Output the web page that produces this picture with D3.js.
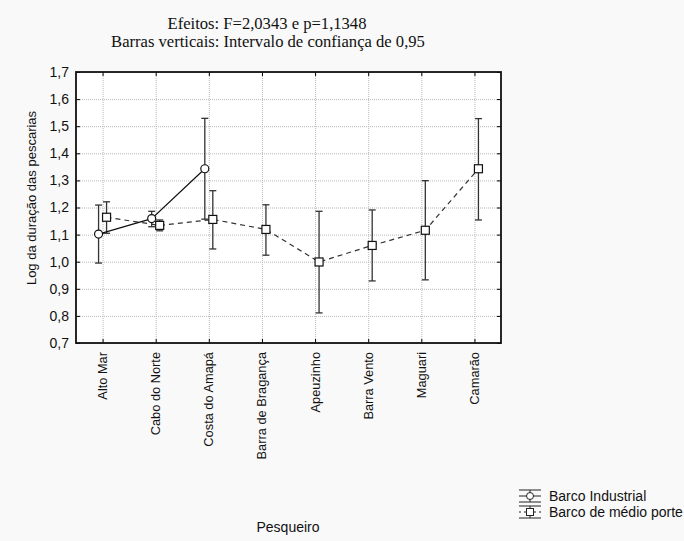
<!DOCTYPE html>
<html>
<head>
<meta charset="utf-8">
<script src="https://cdn.jsdelivr.net/npm/d3@7"></script>
<style>
  body { margin: 0; background: #f9f9f9; }
  svg { display: block; }
  .sans { font-family: "Liberation Sans", Arial, sans-serif; }
</style>
</head>
<body>
<svg id="chart" width="684" height="541"></svg>
<script>
// chart data
const categories = ['Alto Mar', 'Cabo do Norte', 'Costa do Amapá', 'Barra de Bragança',
  'Apeuzinho', 'Barra Vento', 'Maguari', 'Camarão']
const yTicks = [0.7, 0.8, 0.9, 1.0, 1.1, 1.2, 1.3, 1.4, 1.5, 1.6, 1.7]

// Barco Industrial (only first three pesqueiros)
const industrialMean = [1.102, 1.159, 1.343]
const industrialLow = [0.995, 1.129, 1.157]
const industrialHigh = [1.209, 1.186, 1.529]

// Barco de médio porte
const medioMean = [1.164, 1.134, 1.156, 1.119, 0.999, 1.060, 1.116, 1.343]
const medioLow = [1.105, 1.114, 1.047, 1.024, 0.811, 0.929, 0.933, 1.154]
const medioHigh = [1.221, 1.154, 1.262, 1.210, 1.186, 1.191, 1.299, 1.528]

const plotL = 76, plotR = 501, plotT = 72, plotB = 343
const svg = d3.select('#chart')

const x = d3.scalePoint().domain(categories).range([plotL, plotR]).padding(0.5)
const y = d3.scaleLinear().domain([0.7, 1.7]).range([plotB, plotT])
const fmt = d => d.toFixed(1).replace('.', ',')

// plot background
svg.append('rect')
  .attr('x', plotL).attr('y', plotT)
  .attr('width', plotR - plotL).attr('height', plotB - plotT)
  .attr('fill', '#fff')

// grid lines
svg.append('g')
  .attr('transform', `translate(0,${plotB})`)
  .call(d3.axisBottom(x).tickSize(-(plotB - plotT)).tickFormat(''))
  .call(g => g.select('.domain').remove())
  .call(g => g.selectAll('line').attr('stroke', '#b8b8b8').attr('stroke-dasharray', '1,1'))
svg.append('g')
  .attr('transform', `translate(${plotL},0)`)
  .call(d3.axisLeft(y).tickValues(yTicks).tickSize(-(plotR - plotL)).tickFormat(''))
  .call(g => g.select('.domain').remove())
  .call(g => g.selectAll('line').attr('stroke', '#b8b8b8').attr('stroke-dasharray', '1,1'))

// axes with inward ticks
svg.append('g')
  .attr('class', 'sans')
  .attr('transform', `translate(${plotL},0)`)
  .call(d3.axisLeft(y).tickValues(yTicks).tickSize(-4).tickPadding(7).tickFormat(fmt))
  .call(g => g.select('.domain').remove())
  .call(g => g.selectAll('text').attr('font-size', 14).attr('fill', '#111'))
svg.append('g')
  .attr('transform', `translate(${plotR},0)`)
  .call(d3.axisRight(y).tickValues(yTicks).tickSize(-4).tickFormat(''))
  .call(g => g.select('.domain').remove())
svg.append('g')
  .attr('transform', `translate(0,${plotT})`)
  .call(d3.axisTop(x).tickSize(-4).tickFormat(''))
  .call(g => g.select('.domain').remove())
svg.append('g')
  .attr('transform', `translate(0,${plotB})`)
  .call(d3.axisBottom(x).tickSize(-4).tickFormat(''))
  .call(g => g.select('.domain').remove())

// x tick labels, rotated
svg.append('g').attr('class', 'sans')
  .selectAll('text')
  .data(categories)
  .join('text')
  .attr('transform', d => `translate(${x(d)},352) rotate(-90)`)
  .attr('dy', '0.35em')
  .attr('text-anchor', 'end')
  .attr('font-size', 12.8)
  .attr('fill', '#111')
  .text(d => d)

// frame
svg.append('rect')
  .attr('x', plotL).attr('y', plotT)
  .attr('width', plotR - plotL).attr('height', plotB - plotT)
  .attr('fill', 'none').attr('stroke', '#111').attr('stroke-width', 1.8)

function drawSeries (means, lows, highs, offset, dashed, marker) {
  const g = svg.append('g')
  const cats = categories.slice(0, means.length)
  const pts = cats.map((c, i) => ({ cx: x(c) + offset, m: means[i], lo: lows[i], hi: highs[i] }))

  g.append('path')
    .attr('d', d3.line().x(d => d.cx).y(d => y(d.m))(pts))
    .attr('fill', 'none')
    .attr('stroke', dashed ? '#333' : '#111')
    .attr('stroke-width', 1.2)
    .attr('stroke-dasharray', dashed ? '5,4' : null)

  const bars = g.selectAll('g.bar').data(pts).join('g').attr('class', 'bar')
    .attr('stroke', '#333').attr('stroke-width', 1.3)
  bars.append('line')
    .attr('x1', d => d.cx).attr('x2', d => d.cx)
    .attr('y1', d => y(d.lo)).attr('y2', d => y(d.hi))
  bars.append('line')
    .attr('x1', d => d.cx - 3.5).attr('x2', d => d.cx + 3.5)
    .attr('y1', d => y(d.hi)).attr('y2', d => y(d.hi))
  bars.append('line')
    .attr('x1', d => d.cx - 3.5).attr('x2', d => d.cx + 3.5)
    .attr('y1', d => y(d.lo)).attr('y2', d => y(d.lo))

  if (marker === 'circle') {
    g.selectAll('circle').data(pts).join('circle')
      .attr('cx', d => d.cx).attr('cy', d => y(d.m)).attr('r', 4)
      .attr('fill', '#fff').attr('stroke', '#111').attr('stroke-width', 1.2)
  } else {
    g.selectAll('rect').data(pts).join('rect')
      .attr('x', d => d.cx - 4).attr('y', d => y(d.m) - 4)
      .attr('width', 8).attr('height', 8)
      .attr('fill', '#fff').attr('stroke', '#111').attr('stroke-width', 1.2)
  }
}

drawSeries(medioMean, medioLow, medioHigh, 4, true, 'square')
drawSeries(industrialMean, industrialLow, industrialHigh, -4, false, 'circle')

// titles
const title = svg.append('g')
  .attr('font-family', '"Liberation Serif", "Times New Roman", serif')
  .attr('font-size', 16.6).attr('text-anchor', 'middle').attr('fill', '#111')
title.append('text').attr('x', 267).attr('y', 28.5).text('Efeitos: F=2,0343 e p=1,1348')
title.append('text').attr('x', 268).attr('y', 47).text('Barras verticais: Intervalo de confiança de 0,95')

svg.append('text').attr('class', 'sans')
  .attr('transform', 'translate(36,198) rotate(-90)')
  .attr('text-anchor', 'middle').attr('font-size', 13).attr('fill', '#111')
  .text('Log da duração das pescarias')

svg.append('text').attr('class', 'sans')
  .attr('x', 288).attr('y', 531.5)
  .attr('text-anchor', 'middle').attr('font-size', 14).attr('fill', '#111')
  .text('Pesqueiro')

// legend
const legendItems = [
  { label: 'Barco Industrial', marker: 'circle', dashed: false },
  { label: 'Barco de médio porte', marker: 'square', dashed: true }
]
const legend = svg.append('g').attr('class', 'sans')
legendItems.forEach((item, i) => {
  const cy = 496 + i * 16
  const cx = 530
  const lg = legend.append('g').attr('stroke', '#222').attr('stroke-width', 1)
  lg.append('line').attr('x1', cx - 11).attr('x2', cx + 11).attr('y1', cy - 6).attr('y2', cy - 6)
  lg.append('line').attr('x1', cx - 11).attr('x2', cx + 11).attr('y1', cy + 6).attr('y2', cy + 6)
  lg.append('line').attr('x1', cx).attr('x2', cx).attr('y1', cy - 6).attr('y2', cy + 6)
  lg.append('line').attr('x1', cx - 11).attr('x2', cx + 11).attr('y1', cy).attr('y2', cy)
    .attr('stroke-dasharray', item.dashed ? '2,3' : null)
  if (item.marker === 'circle') {
    lg.append('circle').attr('cx', cx).attr('cy', cy).attr('r', 3.5).attr('fill', '#fff')
  } else {
    lg.append('rect').attr('x', cx - 3.5).attr('y', cy - 3.5).attr('width', 7).attr('height', 7).attr('fill', '#fff')
  }
  legend.append('text')
    .attr('x', 549).attr('y', cy).attr('dy', '0.35em')
    .attr('font-size', 14).attr('fill', '#111')
    .text(item.label)
})
</script>
</body>
</html>
